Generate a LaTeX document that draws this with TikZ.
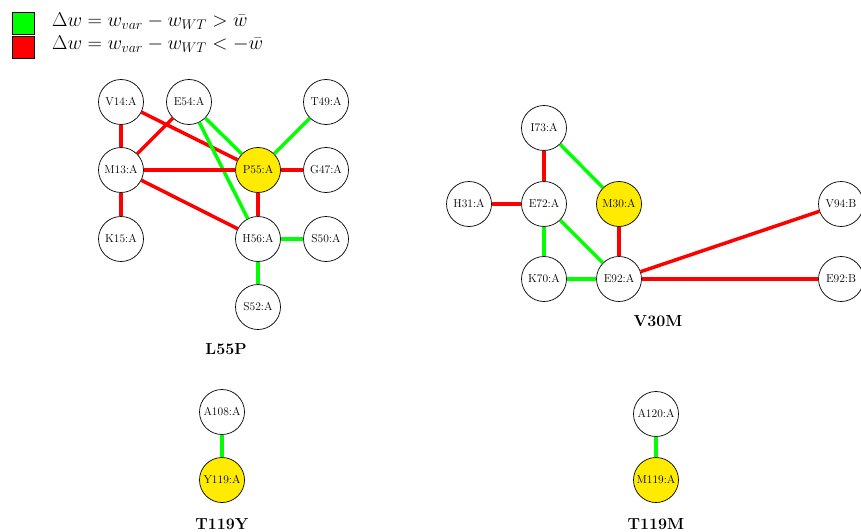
\RequirePackage{fix-cm}
\documentclass[tikz,border=0pt]{standalone}
\usepackage{amsmath}
\definecolor{lgreen}{RGB}{0,255,0}
\definecolor{lred}{RGB}{255,0,0}
\definecolor{lyellow}{RGB}{255,235,0}
\begin{document}
\begin{tikzpicture}[x=1pt,y=-1pt,
  res/.style={circle,draw,line width=0.7pt,minimum size=45pt,inner sep=0pt,font=\fontsize{11.5}{12}\selectfont,fill=white},
  mut/.style={res,fill=lyellow},
  gedge/.style={draw=lgreen,line width=3.5pt},
  redge/.style={draw=lred,line width=3.5pt},
  ttl/.style={font=\fontsize{16}{18}\selectfont\bfseries},
  leg/.style={draw,line width=0.6pt,minimum size=22pt,inner sep=0pt},
  legt/.style={anchor=west,inner sep=0pt,text height=9pt,text depth=2pt,font=\fontsize{20}{21}\selectfont}]
\useasboundingbox (0,0) rectangle (861,532);
% legend
\node[leg,fill=lgreen] (lg) at (23,23) {};
\node[leg,fill=lred] (lr) at (23,47) {};
\node[legt] (lgt) at (52,23) {$\Delta w = w_{var} - w_{WT} > \bar{w}$};
\node[legt] (lrt) at (52,46) {$\Delta w = w_{var} - w_{WT} < -\bar{w}$};
% L55P
\node[res] (V14) at (121,102) {V14:A};
\node[res] (E54) at (189,102) {E54:A};
\node[res] (T49) at (326,102) {T49:A};
\node[res] (M13) at (121,170) {M13:A};
\node[mut] (P55) at (258,170) {P55:A};
\node[res] (G47) at (326,170) {G47:A};
\node[res] (K15) at (121,239) {K15:A};
\node[res] (H56) at (258,239) {H56:A};
\node[res] (S50) at (326,239) {S50:A};
\node[res] (S52) at (258,307) {S52:A};
\node[ttl] (t1) at (226,349) {L55P};
% V30M
\node[res] (I73) at (544,128) {I73:A};
\node[res] (H31) at (469,204) {H31:A};
\node[res] (E72) at (544,204) {E72:A};
\node[mut] (M30) at (619,204) {M30:A};
\node[res] (V94) at (841,204) {V94:B};
\node[res] (K70) at (544,279) {K70:A};
\node[res] (E92) at (619,279) {E92:A};
\node[res] (E92B) at (841,279) {E92:B};
\node[ttl] (t2) at (658,321) {V30M};
% T119Y
\node[res] (A108) at (222,412) {A108:A};
\node[mut] (Y119) at (222,480) {Y119:A};
\node[ttl] (t3) at (222,524) {T119Y};
% T119M
\node[res] (A120) at (656,414) {A120:A};
\node[mut] (M119) at (656,480) {M119:A};
\node[ttl] (t4) at (656,524) {T119M};
% edges
\draw[redge] (V14) -- (M13);
\draw[redge] (V14) -- (P55);
\draw[redge] (E54) -- (M13);
\draw[gedge] (E54) -- (P55);
\draw[gedge] (E54) -- (H56);
\draw[gedge] (T49) -- (P55);
\draw[redge] (M13) -- (P55);
\draw[redge] (P55) -- (G47);
\draw[redge] (M13) -- (K15);
\draw[redge] (M13) -- (H56);
\draw[redge] (P55) -- (H56);
\draw[gedge] (H56) -- (S50);
\draw[gedge] (H56) -- (S52);
\draw[redge] (I73) -- (E72);
\draw[gedge] (I73) -- (M30);
\draw[redge] (H31) -- (E72);
\draw[gedge] (E72) -- (K70);
\draw[gedge] (E72) -- (E92);
\draw[redge] (M30) -- (E92);
\draw[gedge] (K70) -- (E92);
\draw[redge] (E92) -- (V94);
\draw[redge] (E92) -- (E92B);
\draw[gedge] (A108) -- (Y119);
\draw[gedge] (A120) -- (M119);
\end{tikzpicture}
\end{document}
